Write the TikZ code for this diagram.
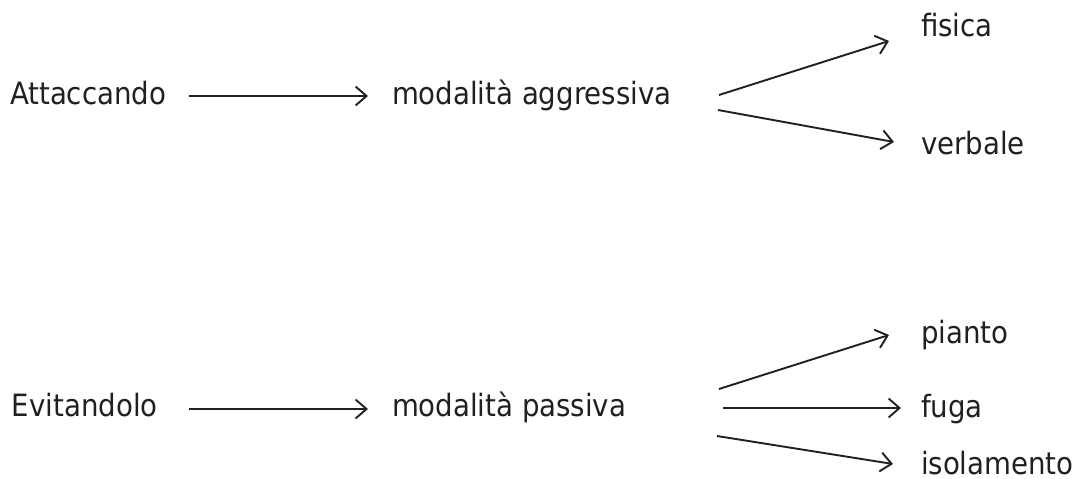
\documentclass[tikz,border=0pt]{standalone}
\usepackage{fontspec}
\setmainfont{DejaVu Sans Condensed}
\usetikzlibrary{arrows.meta}
\definecolor{ink}{RGB}{35,31,32}
\begin{document}
\begin{tikzpicture}[x=1pt,y=-1pt,
  lbl/.style={anchor=base west,inner sep=0pt,outer sep=0pt,text=ink,font=\fontsize{30.7}{36}\selectfont},
  arr/.style={draw=ink,line width=1.9pt,-{Straight Barb[length=11pt,width=19pt,line width=1.9pt]}}]
\useasboundingbox (0,0) rectangle (1080,479);
% top row
\node[lbl] (att) at (10,104) {Attaccando};
\node[lbl] (agg) at (392,104) {modalità aggressiva};
\node[lbl] (fis) at (921,36) {fisica};
\node[lbl] (ver) at (921,154) {verbale};
% bottom row
\node[lbl] (evi) at (12,416) {Evitandolo};
\node[lbl] (pas) at (392,416) {modalità passiva};
\node[lbl] (pia) at (921,343) {pianto};
\node[lbl] (fug) at (921,417) {fuga};
\node[lbl] (iso) at (921,474) {isolamento};
% connector ends
\coordinate (a1s) at (189,96);  \coordinate (a1e) at (368,96);
\coordinate (f1s) at (719,95);  \coordinate (f1e) at (889,41);
\coordinate (v1s) at (718,110); \coordinate (v1e) at (894,142);
\coordinate (a2s) at (189,409); \coordinate (a2e) at (368,409);
\coordinate (p2s) at (719,389); \coordinate (p2e) at (889,335);
\coordinate (g2s) at (723,408); \coordinate (g2e) at (901,408);
\coordinate (i2s) at (717,436); \coordinate (i2e) at (893,464);
\draw[arr] (a1s) -- (a1e);
\draw[arr] (f1s) -- (f1e);
\draw[arr] (v1s) -- (v1e);
\draw[arr] (a2s) -- (a2e);
\draw[arr] (p2s) -- (p2e);
\draw[arr] (g2s) -- (g2e);
\draw[arr] (i2s) -- (i2e);
\end{tikzpicture}
\end{document}
